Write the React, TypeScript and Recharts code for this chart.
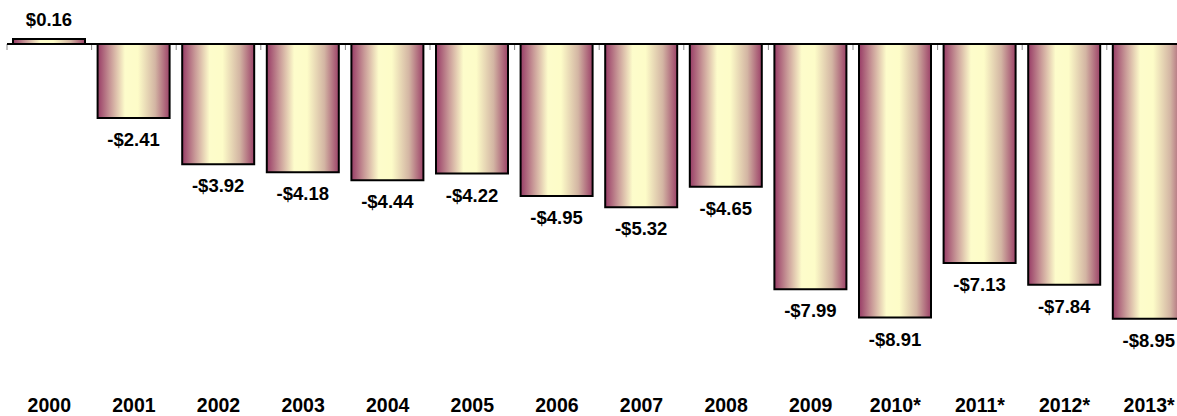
import React from "react";
import { BarChart, Bar, XAxis, YAxis, ReferenceLine, LabelList } from "recharts";

// Yearly balance, $ per unit; starred years are estimates.
const years = ["2000", "2001", "2002", "2003", "2004", "2005", "2006", "2007", "2008", "2009", "2010*", "2011*", "2012*", "2013*"];
const values = [0.16, -2.41, -3.92, -4.18, -4.44, -4.22, -4.95, -5.32, -4.65, -7.99, -8.91, -7.13, -7.84, -8.95];

const rows = years.map((year, i) => ({ year, value: values[i] }));

const FONT = "'Liberation Sans', Arial, sans-serif";

const money = (v: number) => (v < 0 ? `-$${Math.abs(v).toFixed(2)}` : `$${v.toFixed(2)}`);

// Zero line with the little category-boundary ticks hanging under it.
function ZeroAxis(props: any) {
  const { x1, x2, y1 } = props;
  const step = (x2 - x1) / years.length;
  return (
    <g>
      {years.map((_, k) => (
        <line key={k} x1={x1 + k * step} x2={x1 + k * step} y1={y1} y2={y1 + 6} stroke="#8a8a8a" strokeWidth={1} />
      ))}
      <line x1={x1} x2={x2} y1={y1} y2={y1} stroke="#000" strokeWidth={2} />
    </g>
  );
}

function ValueLabel(props: any) {
  const { x, y, width, height, value } = props;
  const top = Math.min(y, y + height);
  const bottom = Math.max(y, y + height);
  const cx = x + width / 2;
  const ty = value >= 0 ? top - 13 : bottom + 28;
  return (
    <text x={cx} y={ty} textAnchor="middle" fontFamily={FONT} fontWeight="bold" fontSize={18.5} fill="#000">
      {money(value)}
    </text>
  );
}

function YearTick(props: any) {
  const { x, y, payload } = props;
  return (
    <text x={x} y={y + 59} textAnchor="middle" fontFamily={FONT} fontWeight="bold" fontSize={19.5} fill="#000">
      {payload.value}
    </text>
  );
}

export default function App() {
  return (
    <div style={{ position: "absolute", left: 0, top: 0, width: 1177, height: 416, overflow: "hidden", background: "#fff" }}>
      <BarChart width={1200} height={416} data={rows} margin={{ top: 13.3, right: 8.6, left: 7, bottom: 0 }}>
        <defs>
          <linearGradient id="barFill" x1="0" y1="0" x2="1" y2="0">
            <stop offset="0%" stopColor="#983c66" />
            <stop offset="18%" stopColor="#c99a98" />
            <stop offset="38%" stopColor="#fdfccb" />
            <stop offset="56%" stopColor="#fdfcc8" />
            <stop offset="80%" stopColor="#d3b5a3" />
            <stop offset="100%" stopColor="#9c4268" />
          </linearGradient>
        </defs>
        <XAxis dataKey="year" height={65} axisLine={false} tickLine={false} tickSize={0} tick={<YearTick />} interval={0} />
        <YAxis hide type="number" domain={[-10, 1]} allowDataOverflow />
        <Bar dataKey="value" barSize={72} fill="url(#barFill)" stroke="#000" strokeWidth={2} isAnimationActive={false}>
          <LabelList dataKey="value" content={<ValueLabel />} />
        </Bar>
        <ReferenceLine y={0} shape={(p: any) => <ZeroAxis {...p} />} />
      </BarChart>
    </div>
  );
}
